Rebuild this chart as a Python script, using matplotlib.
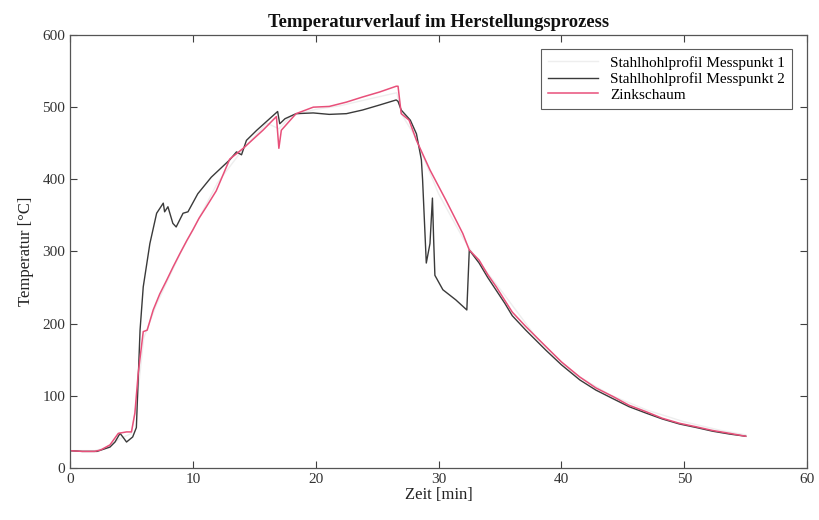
import matplotlib
matplotlib.use("Agg")
import matplotlib.pyplot as plt

plt.rcParams['font.family'] = ['Liberation Serif', 'DejaVu Serif']

# Zinkschaum (pink)
t_zink = [0, 1, 2, 2.5, 3.25, 3.93, 4.6, 5.0, 5.28, 5.55, 5.96, 6.28, 6.77, 7.3, 7.86, 8.4, 8.94,
          9.5, 10.0, 10.5, 11.1, 11.9, 13.0, 14.1, 15.7, 16.8, 17.0, 17.2, 18.4, 19.8, 21.1, 22.5,
          23.8, 25.2, 26.55, 26.7, 26.96, 27.6, 28.2, 29.3, 30.6, 31.97, 32.5, 33.3,
          34.0, 34.7, 35.4, 36.0, 37.1, 38.75, 40.0, 41.5, 42.8, 44.2, 45.5, 46.9, 48.2,
          49.6, 51.0, 52.3, 53.7, 55.0]
T_zink = [24, 23, 23, 25, 32, 48, 50, 50, 76, 131, 189, 191, 219, 241, 260, 279, 297,
          315, 330, 346, 362, 384, 428, 443, 468, 487, 443, 468, 491, 500, 501, 507,
          514, 521, 529, 529, 491, 482, 454, 413, 371, 325, 302, 288,
          268, 251, 232, 216, 196, 168, 147, 126, 111, 99, 87, 78, 69,
          62, 57, 52, 48, 44]

# Stahlhohlprofil Messpunkt 2 (black)
t_mp2 = [0, 1, 2.2, 3.25, 3.66, 4.07, 4.3, 4.6, 5.1, 5.4, 5.7, 5.96, 6.5, 7.05, 7.59,
         7.7, 7.97, 8.37, 8.64, 9.2, 9.6, 10.4, 11.5, 13.0, 13.55, 13.96, 14.36, 15.2,
         16.9, 17.07, 17.5, 18.4, 19.8, 21.1, 22.5, 23.8, 25.2, 26.55, 26.7, 26.96,
         27.7, 28.2, 28.6, 28.7, 29.0, 29.3, 29.5, 29.6, 29.7, 30.35, 31.4, 32.3,
         32.5, 33.3, 34.0, 34.7, 35.4, 36.0, 37.1, 38.75, 40.0, 41.5, 42.8, 44.2, 45.5,
         46.9, 48.2, 49.6, 51.0, 52.3, 53.7, 55.0]
T_mp2 = [24, 23, 23, 29, 36, 48, 43, 36, 43, 56, 191, 251, 311, 353, 367,
         355, 362, 339, 334, 353, 355, 380, 403, 427, 438, 434, 454, 468,
         494, 477, 484, 491, 492, 490, 491, 496, 503, 510, 508, 496,
         482, 463, 427, 399, 284, 311, 374, 316, 267, 247, 233, 219,
         302, 284, 264, 246, 228, 211, 191, 163, 143, 122, 108, 96, 85,
         76, 68, 61, 56, 51, 47, 44]

# Stahlhohlprofil Messpunkt 1 (very light grey, barely visible)
t_mp1 = [0, 2, 3, 4, 5, 5.5, 6, 7, 8, 9, 10, 12, 14, 16, 17, 18, 20, 22, 24, 26.6,
         27, 28, 30, 32, 33, 35, 38, 41, 44, 47, 50, 53, 55]
T_mp1 = [24, 24, 28, 40, 48, 100, 180, 225, 262, 298, 330, 395, 440, 478, 470, 488,
         497, 502, 510, 520, 490, 462, 380, 318, 292, 248, 180, 131, 101, 80, 64, 52, 46]

fig = plt.figure(figsize=(8.19, 5.2), dpi=100)
ax = fig.add_axes([0.0855, 0.1, 0.9, 0.8327])

ax.plot(t_mp1, T_mp1, color='#eeeeee', lw=1.0, label='Stahlhohlprofil Messpunkt 1')
ax.plot(t_mp2, T_mp2, color='#3a3a3a', lw=1.0, label='Stahlhohlprofil Messpunkt 2')
ax.plot(t_zink, T_zink, color='#e8507a', lw=1.1, label='Zinkschaum')

ax.set_xlim(0, 60)
ax.set_ylim(0, 600)
ax.set_xticks([0, 10, 20, 30, 40, 50, 60])
ax.set_yticks([0, 100, 200, 300, 400, 500, 600])
ax.tick_params(direction='in', top=True, right=True, labelsize=11, length=5,
               color='#404040', labelcolor='#333333')
for s in ax.spines.values():
    s.set_color('#555555')
    s.set_linewidth(0.9)

ax.set_xlabel('Zeit [min]', fontsize=12, labelpad=1, color='#222222')
ax.set_ylabel('Temperatur [°C]', fontsize=12, labelpad=6, color='#222222')
ax.set_title('Temperaturverlauf im Herstellungsprozess', fontsize=13.4,
             fontweight='bold', pad=6, color='#111111')

leg = ax.legend(loc='upper right', fontsize=11, frameon=True, fancybox=False,
                edgecolor='#333333', borderpad=0.45, handlelength=3.3,
                labelspacing=0.15, bbox_to_anchor=(0.99, 0.985))
leg.get_frame().set_linewidth(0.8)

fig.savefig('out.png', dpi=100)
